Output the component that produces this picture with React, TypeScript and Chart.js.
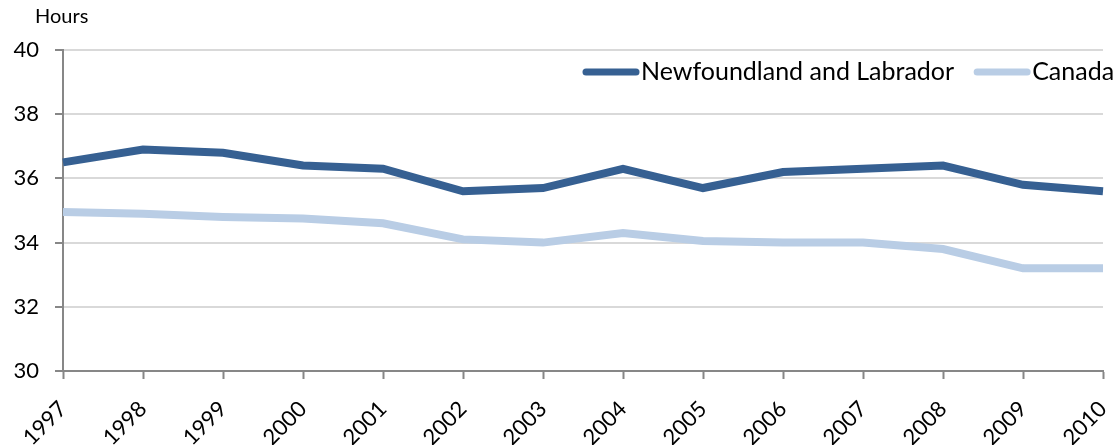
import React, { useEffect, useRef } from "react";
import { Chart, registerables } from "chart.js";

Chart.register(...registerables);

const years = ["1997","1998","1999","2000","2001","2002","2003","2004","2005","2006","2007","2008","2009","2010"];
const newfoundland = [36.5, 36.9, 36.8, 36.4, 36.3, 35.6, 35.7, 36.3, 35.7, 36.2, 36.3, 36.4, 35.8, 35.6];
const canada = [34.95, 34.9, 34.8, 34.75, 34.6, 34.1, 34.0, 34.3, 34.05, 34.0, 34.0, 33.8, 33.2, 33.2];
const seriesNames = ["Newfoundland and Labrador", "Canada"];
const seriesColors = ["#366092", "#b9cde5"];
const yTitle = "Hours";

const FONT = "Lato, 'Liberation Sans', sans-serif";

const overlayPlugin = {
  id: "overlay",
  afterDraw(chart: any) {
    const ctx = chart.ctx;
    const area = chart.chartArea;
    ctx.save();
    // y title
    ctx.fillStyle = "#000";
    ctx.font = `20px ${FONT}`;
    ctx.textAlign = "left";
    ctx.textBaseline = "middle";
    ctx.fillText(yTitle, 35, 17);
    // legend
    ctx.font = `25px ${FONT}`;
    const y = area.top + 22;
    let x = 580;
    seriesNames.forEach((name, i) => {
      ctx.strokeStyle = seriesColors[i];
      ctx.lineWidth = 7;
      ctx.lineCap = "round";
      ctx.beginPath();
      ctx.moveTo(x + 6, y);
      ctx.lineTo(x + 56, y);
      ctx.stroke();
      ctx.fillStyle = "#000";
      ctx.fillText(name, x + 61, y);
      const w = ctx.measureText(name).width;
      x = x + 61 + w + 17;
    });
    ctx.restore();
  },
};

export default function App() {
  const ref = useRef<HTMLCanvasElement | null>(null);
  useEffect(() => {
    document.body.style.margin = "0";
    const chart = new Chart(ref.current as HTMLCanvasElement, {
      type: "line",
      data: {
        labels: years,
        datasets: [
          { label: seriesNames[0], data: newfoundland, borderColor: seriesColors[0], borderWidth: 8, pointRadius: 0, tension: 0, fill: false },
          { label: seriesNames[1], data: canada, borderColor: seriesColors[1], borderWidth: 8, pointRadius: 0, tension: 0, fill: false },
        ],
      },
      options: {
        responsive: false,
        animation: false,
        layout: { padding: { top: 50, right: 12, left: 0, bottom: 0 } },
        plugins: { legend: { display: false }, tooltip: { enabled: false } },
        scales: {
          x: {
            offset: false,
            grid: { drawOnChartArea: false, drawTicks: true, tickLength: 8, tickColor: "#878787", tickWidth: 2 },
            border: { color: "#878787", width: 2 },
            ticks: { color: "#000", font: { family: FONT, size: 22 }, maxRotation: 45, minRotation: 45, padding: 17, autoSkip: false },
            afterFit: (s: any) => { s.height = 74; s.paddingLeft = 0; s.paddingRight = 0; },
          },
          y: {
            min: 30,
            max: 40,
            ticks: { stepSize: 2, color: "#000", font: { family: FONT, size: 22 }, padding: 16 },
            grid: { color: "#d9d9d9", lineWidth: 2, tickLength: 8, tickColor: "#878787", tickWidth: 2 },
            border: { color: "#878787", width: 2 },
            afterFit: (s: any) => { s.width = 63; s.paddingTop = 0; s.paddingBottom = 0; },
          },
        },
      },
      plugins: [overlayPlugin],
    });
    return () => chart.destroy();
  }, []);
  return (
    <div style={{ width: 1115, height: 445 }}>
      <canvas ref={ref} width={1115} height={445} />
    </div>
  );
}
